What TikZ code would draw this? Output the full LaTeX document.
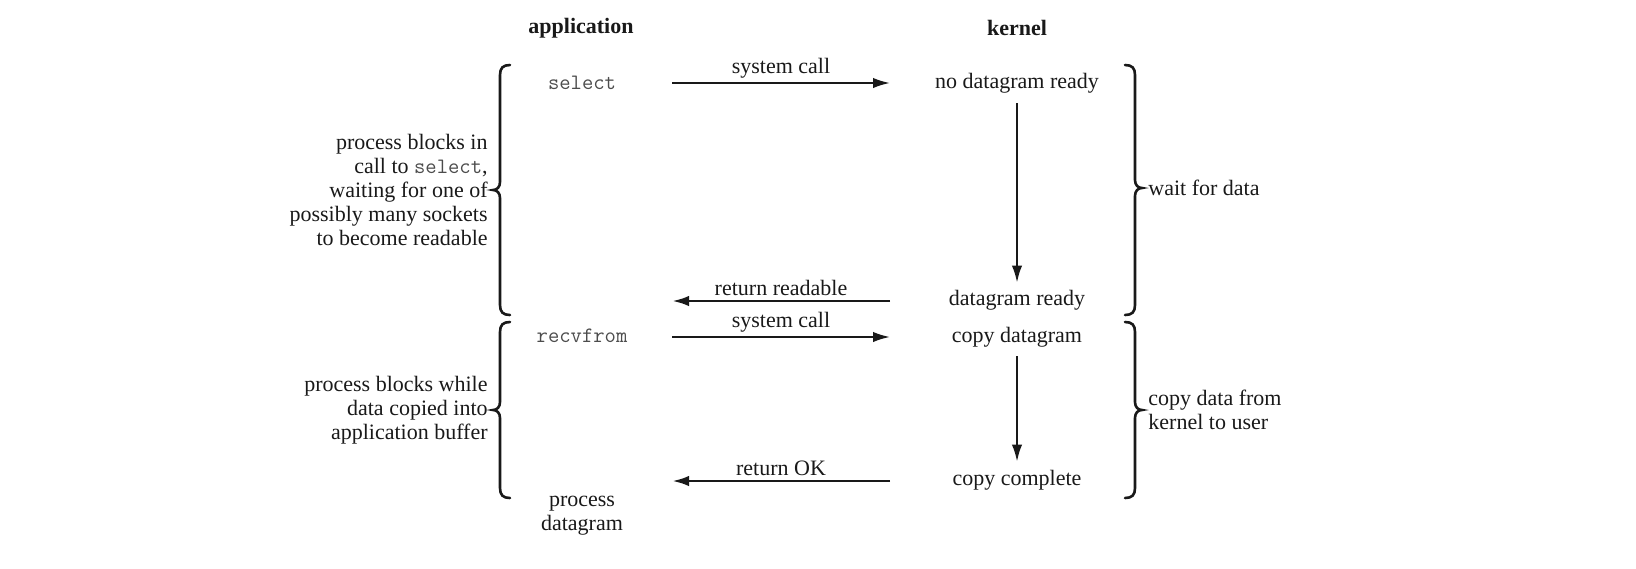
\documentclass[tikz,border=0pt]{standalone}
\usepackage{fontspec}
\setmainfont{Liberation Serif}
\usetikzlibrary{arrows.meta}

\definecolor{codegray}{gray}{0.3}
\definecolor{ink}{gray}{0.1}
\newcommand\sysname[1]{{\color{codegray}\fontsize{11}{12}\selectfont\ttfamily #1}}

% tall curly braces: spine x, top y, tip y, bottom y
\newcommand\LeftBrc[4]{%
  \draw[brc] (#1+10,#2) .. controls (#1+3,#2) and (#1,#2+3) .. (#1,#2+10)
    -- (#1,#3-8) .. controls (#1,#3-3) and (#1-3,#3) .. (#1-7,#3)
    .. controls (#1-3,#3) and (#1,#3+3) .. (#1,#3+8)
    -- (#1,#4-10) .. controls (#1,#4-3) and (#1+3,#4) .. (#1+10,#4);}
\newcommand\RightBrc[4]{%
  \draw[brc] (#1-10,#2) .. controls (#1-3,#2) and (#1,#2+3) .. (#1,#2+10)
    -- (#1,#3-8) .. controls (#1,#3-3) and (#1+3,#3) .. (#1+7,#3)
    .. controls (#1+3,#3) and (#1,#3+3) .. (#1,#3+8)
    -- (#1,#4-10) .. controls (#1,#4-3) and (#1-3,#4) .. (#1-10,#4);}

\begin{document}
\begin{tikzpicture}[x=0.5pt, y=-0.5pt,
  txt/.style={font=\fontsize{11}{12}\selectfont},
  lbl/.style={txt, inner sep=0pt, text=ink},
  hdr/.style={lbl, font=\fontsize{11}{12}\selectfont\bfseries},
  code/.style={inner sep=0pt, text=codegray, font=\fontsize{11}{12}\selectfont\ttfamily},
  arr/.style={-{Latex[length=8.5pt,width=5.2pt]}, line width=1pt, draw=ink},
  ret/.style={arr, line width=1.4pt},
  brc/.style={line width=1.3pt, line cap=round, draw=ink},
  tag/.style={txt, midway, above, inner sep=2pt, text=ink}]
\useasboundingbox (0,0) rectangle (1636,568);

% column headings
\node[hdr] (app) at (581,28) {application};
\node[hdr] (ker) at (1017,28) {kernel};

% application side
\node[code] (sel) at (582,83) {select};
\node[code] (rcv) at (582,336) {recvfrom};
\node[lbl, align=center] (pd) at (582,516) {process\\datagram};

% kernel side
\node[lbl] (nodr) at (1017,83) {no datagram ready};
\node[lbl] (dr) at (1017,300) {datagram ready};
\node[lbl] (cpd) at (1017,337) {copy datagram};
\node[lbl] (cpc) at (1017,480) {copy complete};

% arrow ends between the two columns
\coordinate (s1a) at (672,83);  \coordinate (s1b) at (890,83);
\coordinate (r1a) at (890,301); \coordinate (r1b) at (672,301);
\coordinate (s2a) at (672,337); \coordinate (s2b) at (890,337);
\coordinate (r2a) at (890,481); \coordinate (r2b) at (672,481);

\draw[arr] (s1a) -- (s1b) node[tag] (t1) {system call};
\draw[ret] (r1a) -- (r1b) node[tag] (t2) {return readable};
\draw[arr] (s2a) -- (s2b) node[tag] (t3) {system call};
\draw[ret] (r2a) -- (r2b) node[tag] (t4) {return OK};

\draw[arr, shorten <=5pt, shorten >=3.5pt] (nodr.south) -- (dr.north);
\draw[arr, shorten <=4.5pt, shorten >=4pt] (cpd.south) -- (cpc.north);

% left braces and notes
\LeftBrc{500}{65}{190}{315}
\LeftBrc{500}{322}{410}{498}
\node[lbl, anchor=east, align=right] (n1) at (488,190)
  {process blocks in\\call to \sysname{select},\\waiting for one of\\possibly many sockets\\to become readable};
\node[lbl, anchor=east, align=right] (n2) at (488,410)
  {process blocks while\\data copied into\\application buffer};

% right braces and notes
\RightBrc{1135}{65}{188}{315}
\RightBrc{1135}{322}{410}{498}
\node[lbl, anchor=west] (n3) at (1148,188) {wait for data};
\node[lbl, anchor=west, align=left] (n4) at (1148,410) {copy data from\\kernel to user};
\end{tikzpicture}
\end{document}
